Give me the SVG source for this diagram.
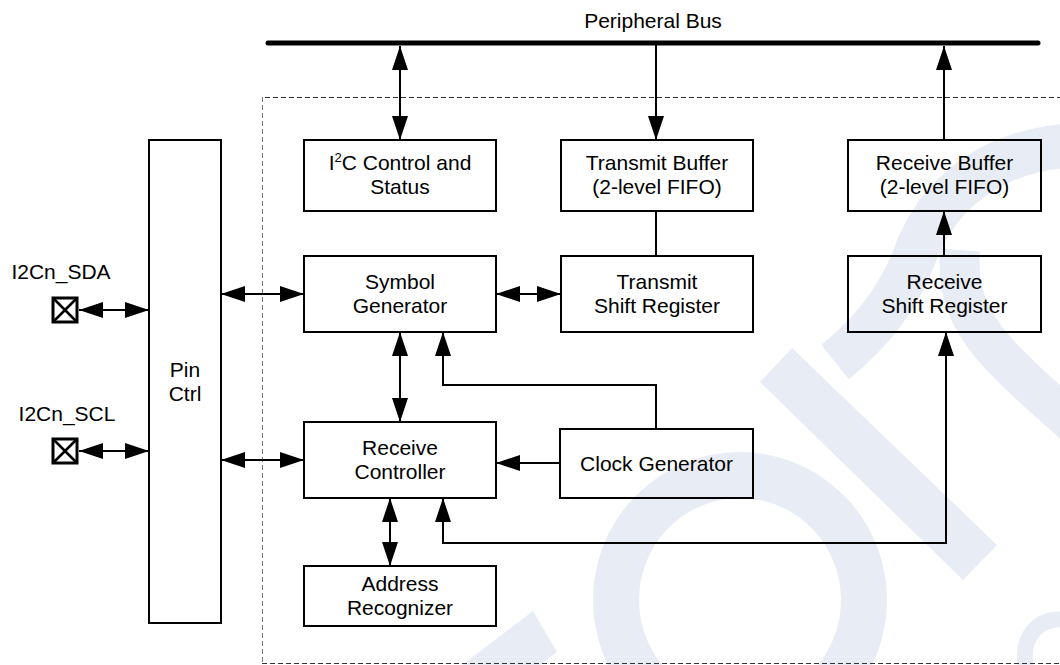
<svg xmlns="http://www.w3.org/2000/svg" width="1060" height="665" viewBox="0 0 1060 665">
<style>
.wm{fill:#e8edf5;stroke:none}
.wms{fill:none;stroke:#e8edf5}
.box{fill:none;stroke:#000;stroke-width:2}
.t{font-family:"Liberation Sans",Arial,Helvetica,sans-serif;font-size:21px;fill:#000;text-anchor:middle}
.c{fill:none;stroke:#000;stroke-width:2}
.pad{fill:#fff;stroke:#000;stroke-width:3}
</style>
<defs>
<marker id="ah" markerUnits="userSpaceOnUse" markerWidth="24" markerHeight="16" refX="24" refY="8" orient="auto-start-reverse">
<path d="M0,0 L24,8 L0,16 z" fill="#000"/>
</marker>
</defs>
<rect width="1060" height="665" fill="#fff"/>
<g id="watermark">
<ellipse class="wms" cx="740" cy="600" rx="124" ry="125" stroke-width="46"/>
<polygon class="wm" points="760,382 792,348 997,545 963,580"/>
<path class="wms" stroke-width="44" d="M1075,145 C985,150 935,200 915,255 C900,295 875,330 835,362"/>
<path class="wms" stroke-width="40" d="M960,250 C955,320 990,350 1075,425"/>
<path class="wms" stroke-width="16" d="M1026,668 C1020,635 1040,616 1066,620"/>
<polygon class="wm" points="462,665 533,611 557,652 540,665"/>
</g>
<g id="boundary">
<path d="M1062,97.5 H262" fill="none" stroke="#333" stroke-width="1" stroke-dasharray="5,3"/>
<path d="M262.5,97 V663" fill="none" stroke="#777" stroke-width="1" stroke-dasharray="5,3"/>
<path d="M262,663.5 H1062" fill="none" stroke="#333" stroke-width="1" stroke-dasharray="5,3"/>
</g>
<g id="bus">
<line x1="268" y1="43" x2="1038" y2="43" stroke="#000" stroke-width="5" stroke-linecap="round"/>
<text class="t" x="653" y="28">Peripheral Bus</text>
</g>
<g id="connectors">
<line class="c" x1="400" y1="46" x2="400" y2="140" marker-start="url(#ah)" marker-end="url(#ah)"/>
<line class="c" x1="656" y1="45" x2="656" y2="140" marker-end="url(#ah)"/>
<line class="c" x1="944" y1="140" x2="944" y2="46" marker-end="url(#ah)"/>
<line class="c" x1="656" y1="211" x2="656" y2="256"/>
<line class="c" x1="944" y1="256" x2="944" y2="211" marker-end="url(#ah)"/>
<line class="c" x1="221" y1="294" x2="304" y2="294" marker-start="url(#ah)" marker-end="url(#ah)"/>
<line class="c" x1="496" y1="294" x2="561" y2="294" marker-start="url(#ah)" marker-end="url(#ah)"/>
<line class="c" x1="221" y1="460" x2="304" y2="460" marker-start="url(#ah)" marker-end="url(#ah)"/>
<line class="c" x1="79" y1="310" x2="149" y2="310" marker-start="url(#ah)" marker-end="url(#ah)"/>
<line class="c" x1="79" y1="451" x2="149" y2="451" marker-start="url(#ah)" marker-end="url(#ah)"/>
<line class="c" x1="400" y1="332" x2="400" y2="422" marker-start="url(#ah)" marker-end="url(#ah)"/>
<path class="c" d="M656,429 V385 H443 V332" marker-end="url(#ah)"/>
<line class="c" x1="560" y1="463" x2="496" y2="463" marker-end="url(#ah)"/>
<line class="c" x1="390" y1="498" x2="390" y2="566" marker-start="url(#ah)" marker-end="url(#ah)"/>
<path class="c" d="M443,498 V543 H946 V332" marker-start="url(#ah)" marker-end="url(#ah)"/>
</g>
<g id="sda">
<rect class="pad" x="53" y="298" width="24" height="24"/>
<path d="M53,298 L77,322 M77,298 L53,322" stroke="#000" stroke-width="2.5"/>
<text class="t" x="61" y="279">I2Cn_SDA</text>
</g>
<g id="scl">
<rect class="pad" x="53" y="439" width="24" height="24"/>
<path d="M53,439 L77,463 M77,439 L53,463" stroke="#000" stroke-width="2.5"/>
<text class="t" x="67" y="421">I2Cn_SCL</text>
</g>
<g id="pinctrl">
<rect class="box" x="149" y="140" width="72" height="483"/>
<text class="t" x="185" y="377">Pin</text>
<text class="t" x="185" y="401">Ctrl</text>
</g>
<g id="i2cctl">
<rect class="box" x="304" y="140" width="192" height="71"/>
<text class="t" x="400" y="170">I<tspan font-size="13" dy="-8">2</tspan><tspan dy="8">C Control and</tspan></text>
<text class="t" x="400" y="194">Status</text>
</g>
<g id="txbuf">
<rect class="box" x="561" y="140" width="192" height="71"/>
<text class="t" x="657" y="170">Transmit Buffer</text>
<text class="t" x="657" y="194">(2-level FIFO)</text>
</g>
<g id="rxbuf">
<rect class="box" x="848" y="140" width="193" height="71"/>
<text class="t" x="944.5" y="170">Receive Buffer</text>
<text class="t" x="944.5" y="194">(2-level FIFO)</text>
</g>
<g id="symgen">
<rect class="box" x="304" y="256" width="192" height="76"/>
<text class="t" x="400" y="289">Symbol</text>
<text class="t" x="400" y="313">Generator</text>
</g>
<g id="txshift">
<rect class="box" x="561" y="256" width="192" height="76"/>
<text class="t" x="657" y="289">Transmit</text>
<text class="t" x="657" y="313">Shift Register</text>
</g>
<g id="rxshift">
<rect class="box" x="848" y="256" width="193" height="76"/>
<text class="t" x="944.5" y="289">Receive</text>
<text class="t" x="944.5" y="313">Shift Register</text>
</g>
<g id="rxctl">
<rect class="box" x="304" y="422" width="192" height="76"/>
<text class="t" x="400" y="455">Receive</text>
<text class="t" x="400" y="479">Controller</text>
</g>
<g id="clkgen">
<rect class="box" x="560" y="429" width="193" height="69"/>
<text class="t" x="656.5" y="471">Clock Generator</text>
</g>
<g id="addr">
<rect class="box" x="304" y="566" width="192" height="60"/>
<text class="t" x="400" y="591">Address</text>
<text class="t" x="400" y="615">Recognizer</text>
</g>
</svg>
